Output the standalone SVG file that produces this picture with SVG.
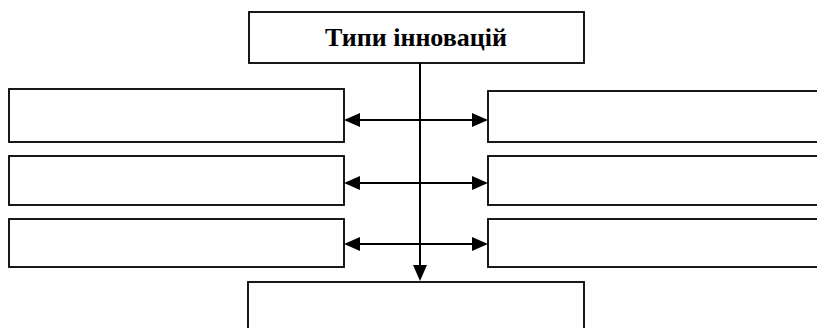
<svg xmlns="http://www.w3.org/2000/svg" width="817" height="328" viewBox="0 0 817 328">
<style>
.box{fill:#fff;stroke:#000;stroke-width:1.8}
.ln{stroke:#000;stroke-width:2;fill:none}
.ah{fill:#000}
text{font-family:"Liberation Serif","Times New Roman",serif;font-weight:bold;font-size:26px;fill:#000}
</style>
<g id="top"><rect class="box" x="249" y="12" width="335" height="51"/><text x="416" y="46" text-anchor="middle">Типи інновацій</text></g>
<g id="l1"><rect class="box" x="9" y="89" width="335" height="53"/></g>
<g id="l2"><rect class="box" x="9" y="156" width="335" height="49"/></g>
<g id="l3"><rect class="box" x="9" y="219" width="335" height="48"/></g>
<g id="r1"><rect class="box" x="488" y="91" width="340" height="51"/></g>
<g id="r2"><rect class="box" x="488" y="156" width="340" height="49"/></g>
<g id="r3"><rect class="box" x="488" y="219" width="340" height="48"/></g>
<g id="bottom"><rect class="box" x="248" y="282" width="336" height="60"/></g>
<g id="connectors">
<line class="ln" x1="420" y1="63" x2="420" y2="268"/>
<polygon class="ah" points="413,265 427,265 420,281"/>
<line class="ln" x1="358" y1="120" x2="474" y2="120"/>
<polygon class="ah" points="344,120 360,113 360,127"/>
<polygon class="ah" points="488,120 472,113 472,127"/>
<line class="ln" x1="358" y1="183" x2="474" y2="183"/>
<polygon class="ah" points="344,183 360,176 360,190"/>
<polygon class="ah" points="488,183 472,176 472,190"/>
<line class="ln" x1="358" y1="244" x2="474" y2="244"/>
<polygon class="ah" points="344,244 360,237 360,251"/>
<polygon class="ah" points="488,244 472,237 472,251"/>
</g>
</svg>
